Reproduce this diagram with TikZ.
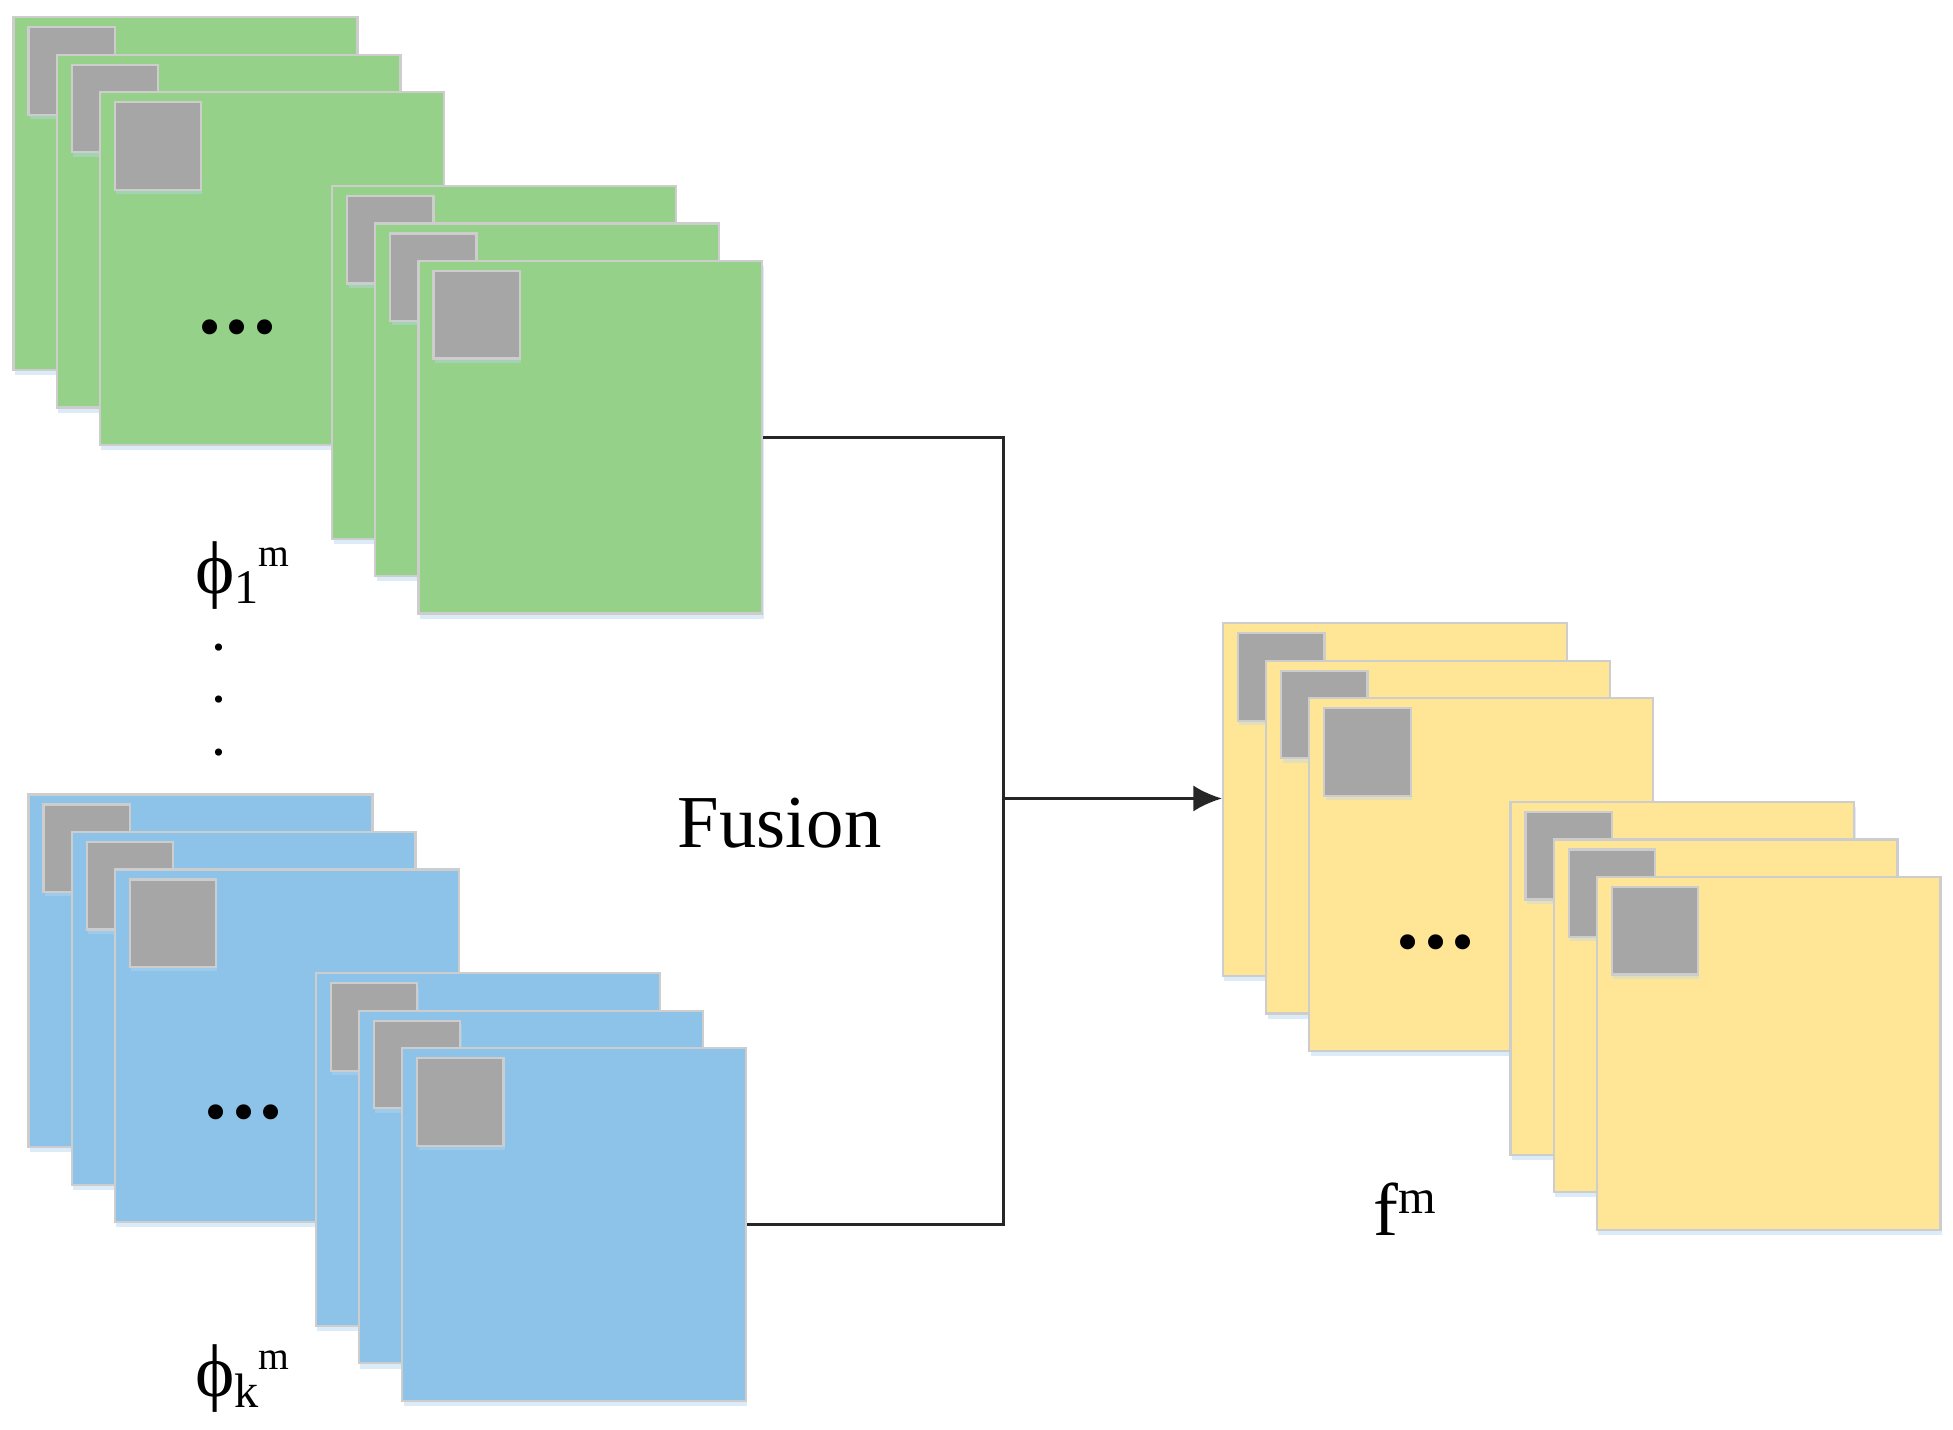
\documentclass[tikz,border=0pt]{standalone}
\usepackage{fontspec}
\setmainfont{Liberation Serif}
\usepackage{tikz}
\usetikzlibrary{arrows.meta, positioning, shadows, calc}
\definecolor{sheetgreen}{RGB}{149,209,137}
\definecolor{sheetblue}{RGB}{141,195,232}
\definecolor{sheetyellow}{RGB}{255,229,150}
\definecolor{patchgray}{RGB}{166,166,166}
\definecolor{sheetedge}{RGB}{205,205,205}
\definecolor{shadowblue}{RGB}{185,215,242}
\tikzset{
    sheet/.style={rectangle, draw=sheetedge, line width=0.5pt, inner sep=0pt, minimum width=2.75cm, minimum height=2.82cm, anchor=north west, drop shadow={shadow xshift=0.3pt, shadow yshift=-1.2pt, fill=shadowblue, opacity=0.5}},
    patch/.style={rectangle, draw=sheetedge, line width=0.5pt, fill=patchgray, inner sep=0pt, minimum width=0.69cm, minimum height=0.70cm, anchor=north west, drop shadow={shadow xshift=0.3pt, shadow yshift=-1pt, fill=shadowblue, opacity=0.4}},
    link/.style={line width=0.75pt, black!85},
    lbl/.style={font=\fontsize{17}{20}\selectfont, inner sep=0pt, anchor=base},
    dots/.style={font=\bfseries\fontsize{21}{21}\selectfont, inner sep=0pt}
}

\begin{document}
\begin{tikzpicture}[x=0.01cm, y=-0.01cm]
    \useasboundingbox (0,0) rectangle (1563,1144);

    % Stacks of feature maps
    \foreach \s/\x/\y/\c in {gA/10/13/sheetgreen, gB/265/148/sheetgreen, bA/22/635/sheetblue, bB/252/778/sheetblue, yA/978/498/sheetyellow, yB/1208/641/sheetyellow}
        \foreach \i in {0,1,2} {
            \node (\s\i) [sheet, fill=\c] at (\x+34.5*\i, \y+30*\i) {};
            \node (\s\i p) [patch] at ($(\s\i.north west)+(12,8)$) {};
        };

    % Dots
    \node (gdots) [dots] at (190,262) {.\kern1pt.\kern1pt.};
    \node (bdots) [dots] at (195,890) {.\kern1pt.\kern1pt.};
    \node (ydots) [dots] at (1149,754) {.\kern1pt.\kern1pt.};
    \node (vdotA) [font=\bfseries, inner sep=0pt] at (175,518) {.};
    \node (vdotB) [font=\bfseries, inner sep=0pt] at (175,560) {.};
    \node (vdotC) [font=\bfseries, inner sep=0pt] at (175,602) {.};

    % Labels
    \node (phione) [lbl] at (194,475) {ϕ\raisebox{-0.3ex}{\fontsize{11}{11}\selectfont 1}\raisebox{0.8ex}{\fontsize{9}{9}\selectfont m}};
    \node (phik) [lbl] at (194,1118) {ϕ\raisebox{-0.3ex}{\fontsize{11}{11}\selectfont k}\raisebox{0.8ex}{\fontsize{9}{9}\selectfont m}};
    \node (fusion) [lbl] at (624,678) {Fusion};
    \node (fm) [lbl] at (1124,989) {f\raisebox{0.66ex}{\fontsize{11}{11}\selectfont m}};

    % Connectors
    \coordinate (fuse) at (803,639);
    \draw [link] (gB2.east) -| (fuse);
    \draw [link] (bB2.east) -| (fuse);
    \draw [link, -{Latex[length=2.3mm, width=2.1mm]}] (fuse) -- (fuse -| yA0.west);

\end{tikzpicture}
\end{document}
